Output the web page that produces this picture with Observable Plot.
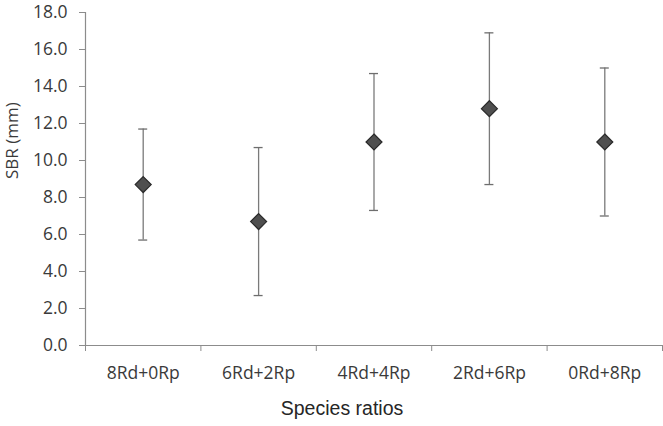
<!DOCTYPE html>
<html>
<head>
<meta charset="utf-8">
<script src="https://cdn.jsdelivr.net/npm/d3@7"></script>
<script src="https://cdn.jsdelivr.net/npm/@observablehq/plot@0.6"></script>
<style>
  html, body { margin: 0; padding: 0; background: #fff; }
  #chart svg { display: block; }
</style>
</head>
<body>
<div id="chart"></div>
<script>
const categories = ["8Rd+0Rp", "6Rd+2Rp", "4Rd+4Rp", "2Rd+6Rp", "0Rd+8Rp"];
const means = [8.7, 6.7, 11.0, 12.8, 11.0];
const lows = [5.7, 2.7, 7.3, 8.7, 7.0];
const highs = [11.7, 10.7, 14.7, 16.9, 15.0];
const yTicks = [0, 2, 4, 6, 8, 10, 12, 14, 16, 18];
const yLabel = "SBR (mm)";
const xLabel = "Species ratios";

const data = categories.map((c, i) => ({cat: c, pos: i + 0.5, mean: means[i], lo: lows[i], hi: highs[i]}));
const boundaries = d3.range(categories.length + 1);

const axisColor = "#8c8c8c";
const textColor = "#3a3a3a";
const font = "'Open Sans', sans-serif";

const chart = Plot.plot({
  width: 663,
  height: 426,
  marginLeft: 85,
  marginRight: 1,
  marginTop: 12,
  marginBottom: 81,
  style: {fontFamily: font, fontSize: "17.5px", color: textColor, background: "#fff"},
  x: {type: "linear", domain: [0, categories.length]},
  y: {domain: [0, 18]},
  marks: [
    Plot.axisY({ticks: yTicks, tickFormat: d3.format(".1f"), tickSize: 6, tickPadding: 12,
      stroke: axisColor, fill: textColor, label: null, fontSize: 17.5}),
    Plot.axisX({ticks: boundaries, tickFormat: () => "", tickSize: 6, stroke: axisColor, label: null}),
    Plot.axisX({ticks: data.map(d => d.pos), tickFormat: (v) => categories[Math.round(v - 0.5)],
      tickSize: 0, tickPadding: 21, fill: textColor, label: null, fontSize: 17.5}),
    Plot.ruleX([0], {stroke: axisColor, strokeWidth: 1.2}),
    Plot.ruleY([0], {stroke: axisColor, strokeWidth: 1.2}),
    Plot.ruleX(data, {x: "pos", y1: "lo", y2: "hi", stroke: "#7a7a7a", strokeWidth: 1.3}),
    Plot.ruleY(data, {y: "hi", x1: "pos", x2: "pos", insetLeft: -4.5, insetRight: -4.5, stroke: "#6e6e6e", strokeWidth: 1.3}),
    Plot.ruleY(data, {y: "lo", x1: "pos", x2: "pos", insetLeft: -4.5, insetRight: -4.5, stroke: "#6e6e6e", strokeWidth: 1.3}),
    Plot.dot(data, {x: "pos", y: "mean", symbol: "diamond2", r: 7.2, fill: "#4f4f4f", stroke: "#2a2a2a", strokeWidth: 1.2}),
    Plot.text([yLabel], {frameAnchor: "left", dx: -73, rotate: -90, fill: textColor, fontSize: 17, fontFamily: font}),
    Plot.text([xLabel], {frameAnchor: "bottom", dx: -32, dy: 69, fill: "#262626", fontSize: 19.5, fontFamily: "'Liberation Sans', Arial, sans-serif"})
  ]
});
document.getElementById("chart").appendChild(chart);
</script>
</body>
</html>
